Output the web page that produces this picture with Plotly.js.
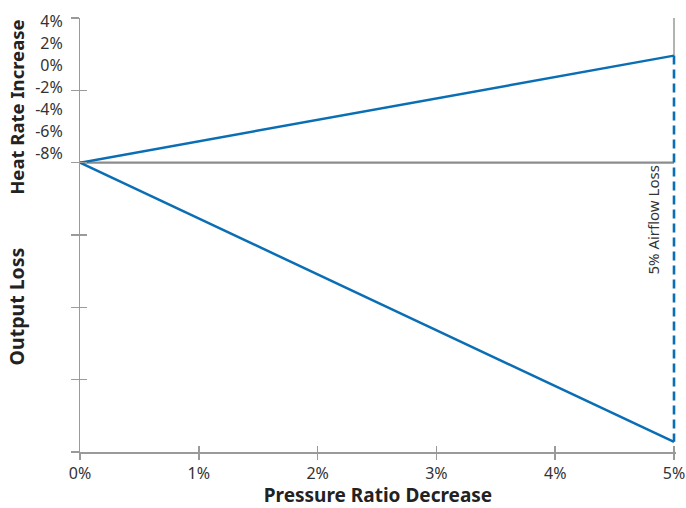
<!DOCTYPE html>
<html>
<head>
<meta charset="utf-8">
<script src="https://cdn.plot.ly/plotly-3.0.1.min.js"></script>
<style>html,body{margin:0;padding:0;background:#fff;}#chart{width:686px;height:508px;}</style>
</head>
<body>
<div id="chart"></div>
<script>
// Data (x in % pressure ratio decrease; y in chart units, baseline = 0)
const pressureRatioDecrease = [0, 5];
const upperLine = [0, 1.48];
const lowerLine = [0, -3.86];
const baseline = [0, 0];
const airflowX = [5, 5];
const airflowY = [1.48, -3.86];
const xTickVals = [0, 1, 2, 3, 4, 5];
const xTickText = ['0%', '1%', '2%', '3%', '4%', '5%'];
const heatRateVals = [4, 2, 0, -2, -4, -6, -8];
const heatRateText = ['4%', '2%', '0%', '-2%', '-4%', '-6%', '-8%'];

const FONT = 'Noto Sans, Open Sans, DejaVu Sans, sans-serif';
const BLUE = '#0a6eb4';
const GRAY = '#9a9a9a';
const XMAX = 5 + 2 / 118.8; // 2px of room so the edge line is not clipped

const traces = [
  {x: [5, 5], y: [upperLine[1], 2], mode: 'lines', line: {color: GRAY, width: 1.5}, hoverinfo: 'skip', showlegend: false},
  {x: pressureRatioDecrease, y: baseline, mode: 'lines', line: {color: '#8c8c8c', width: 2.2}, showlegend: false},
  {x: pressureRatioDecrease, y: upperLine, mode: 'lines', line: {color: BLUE, width: 2.5}, showlegend: false},
  {x: pressureRatioDecrease, y: lowerLine, mode: 'lines', line: {color: BLUE, width: 2.5}, showlegend: false},
  {x: airflowX, y: airflowY, mode: 'lines', line: {color: BLUE, width: 2.6, dash: '9px,5px'}, showlegend: false}
];

const layout = {
  width: 686, height: 508,
  margin: {l: 80, r: 10, t: 18, b: 56},
  paper_bgcolor: '#fff', plot_bgcolor: '#fff',
  font: {family: FONT, color: '#333', size: 16},
  showlegend: false,
  xaxis: {
    range: [0, XMAX], tickvals: xTickVals, ticktext: xTickText,
    showgrid: false, zeroline: false, showline: true, linecolor: GRAY, linewidth: 1.5,
    ticks: 'outside', ticklen: 6, tickcolor: GRAY, tickwidth: 1.5,
    tickfont: {family: FONT, size: 16, color: '#333'},
    title: {text: '<b>Pressure Ratio Decrease</b>', font: {family: FONT, size: 19, color: '#222'}, standoff: 6}
  },
  xaxis2: {
    overlaying: 'x', range: [0, XMAX], tickvals: xTickVals, showticklabels: false,
    showgrid: false, zeroline: false, showline: false,
    ticks: 'inside', ticklen: 6, tickcolor: GRAY, tickwidth: 1.5
  },
  yaxis: {
    range: [-4, 2], dtick: 1, tick0: 0, showticklabels: false,
    showgrid: false, zeroline: false, showline: true, linecolor: GRAY, linewidth: 1.5,
    ticks: 'outside', ticklen: 8, tickcolor: GRAY, tickwidth: 1.5
  },
  yaxis3: {
    overlaying: 'y', range: [-4, 2], dtick: 1, tick0: 0, showticklabels: false,
    showgrid: false, zeroline: false, showline: false,
    ticks: 'inside', ticklen: 7, tickcolor: GRAY, tickwidth: 1.5
  },
  yaxis2: {
    overlaying: 'y', range: [-35.18, 4.27], tickvals: heatRateVals, ticktext: heatRateText,
    showgrid: false, zeroline: false, showline: false,
    ticks: 'outside', ticklen: 13, tickcolor: 'rgba(0,0,0,0)',
    tickfont: {family: FONT, size: 16, color: '#333'}
  },
  annotations: [
    {text: '<b>Heat Rate Increase</b>', xref: 'paper', yref: 'paper', x: -0.106, y: 0.795, xanchor: 'center', yanchor: 'middle',
     textangle: -90, showarrow: false, font: {family: FONT, size: 18.5, color: '#222'}},
    {text: '<b>Output Loss</b>', xref: 'paper', yref: 'paper', x: -0.106, y: 0.335, xanchor: 'center', yanchor: 'middle',
     textangle: -90, showarrow: false, font: {family: FONT, size: 19.5, color: '#222'}},
    {text: '5% Airflow Loss', xref: 'x', yref: 'y', x: 5, y: -0.8, xshift: -21, xanchor: 'center', yanchor: 'middle',
     textangle: -90, showarrow: false, font: {family: FONT, size: 15, color: '#333'}}
  ]
};

// invisible traces to activate overlay axes
traces.push({x: [0], y: [0], xaxis: 'x2', yaxis: 'y3', mode: 'markers', marker: {opacity: 0}, hoverinfo: 'skip', showlegend: false});
traces.push({x: [0], y: [0], xaxis: 'x', yaxis: 'y2', mode: 'markers', marker: {opacity: 0}, hoverinfo: 'skip', showlegend: false});

Plotly.newPlot('chart', traces, layout, {displayModeBar: false, staticPlot: true});
</script>
</body>
</html>
